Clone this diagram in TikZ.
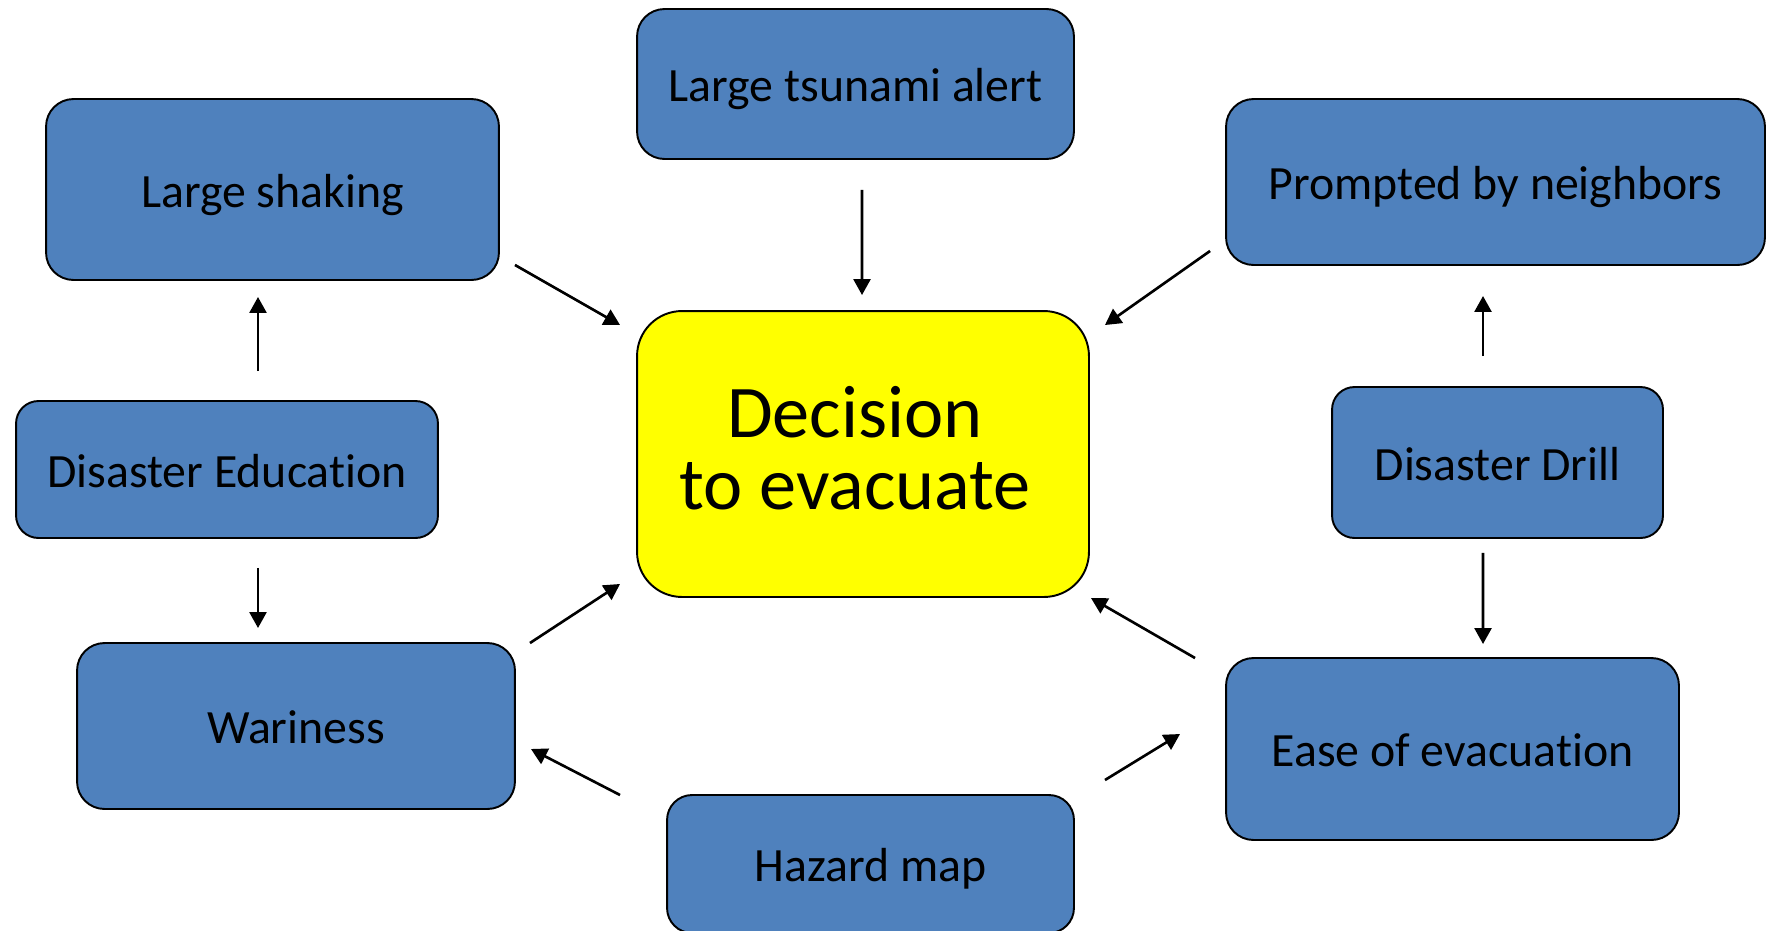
\documentclass[tikz,border=0pt]{standalone}
\usepackage{fontspec}
\setmainfont[Ligatures={NoCommon,NoContextual}]{Carlito}
\usetikzlibrary{arrows.meta}
\definecolor{boxblue}{RGB}{79,129,189}
\definecolor{decyellow}{RGB}{255,255,0}
\begin{document}
\begin{tikzpicture}[
  x=0.02cm,y=-0.02cm,
  >={Triangle[length=0.32cm,width=0.34cm]},
  factor/.style={draw=black,fill=boxblue,line width=1.1pt,rounded corners=0.55cm,inner sep=0pt,outer sep=0pt,
    text height=24.5pt,text depth=4.4pt,font=\fontsize{27.2pt}{32pt}\selectfont},
  decision/.style={draw=black,fill=decyellow,line width=1.1pt,rounded corners=0.9cm,align=center,inner sep=0pt,outer sep=0pt,
    text depth=7pt,font=\fontsize{42.3pt}{41pt}\selectfont},
  flow/.style={->,black,line width=1.5pt},
]
\useasboundingbox (0,0) rectangle (1767,930);
% ---- centre ----
\node[decision,minimum width=9.04cm,minimum height=5.72cm] (dec) at (863,454) {Decision\kern0.32cm\\to evacuate\kern0.32cm};
% ---- upper row ----
\node[factor,minimum width=9.06cm,minimum height=3.62cm] (shaking) at (272.5,189.5) {Large shaking};
\node[factor,minimum width=8.74cm,minimum height=3.00cm] (tsunami) at (855.5,84) {Large tsunami alert};
\node[factor,minimum width=10.78cm,minimum height=3.32cm] (neighbors) at (1495.5,182) {Prompted by neighbors};
% ---- middle row ----
\node[factor,minimum width=8.44cm,minimum height=2.74cm,rounded corners=0.45cm] (edu) at (227,469.5) {Disaster Education};
\node[factor,minimum width=6.62cm,minimum height=3.02cm,rounded corners=0.45cm] (drill) at (1497.5,462.5) {Disaster Drill};
% ---- lower row ----
\node[factor,minimum width=8.76cm,minimum height=3.32cm] (wariness) at (296,726) {Wariness};
\node[factor,minimum width=9.06cm,minimum height=3.64cm] (ease) at (1452.5,749) {Ease of evacuation};
\node[factor,minimum width=8.14cm,minimum height=2.76cm,rounded corners=0.5cm] (hazard) at (870.5,864) {Hazard map};
% factors -> decision
\draw[flow] ([shift={(16,-15)}]shaking.south east) -- ([shift={(-17,14)}]dec.north west);
\draw[flow] ([shift={(6.5,31)}]tsunami.south) -- ([shift={(-1,-16)}]dec.north);
\draw[flow] ([shift={(-16,-14)}]neighbors.south west) -- ([shift={(16,14)}]dec.north east);
\draw[flow] ([shift={(15,0)}]wariness.north east) -- ([shift={(-17,-13)}]dec.south west);
\draw[flow] ([shift={(-31,0)}]ease.north west) -- ([shift={(2,1)}]dec.south east);
% education and drill
\draw[flow] ([shift={(31,-30)}]edu.north) -- ([shift={(-14.5,17)}]shaking.south);
\draw[flow] ([shift={(31,30)}]edu.south) -- ([shift={(-38,-15)}]wariness.north);
\draw[flow] ([shift={(-14.5,-31)}]drill.north) -- ([shift={(-12.5,31)}]neighbors.south);
\draw[flow] ([shift={(-14.5,15)}]drill.south) -- ([shift={(30.5,-14)}]ease.north);
% hazard map
\draw[flow] ([shift={(-47,0)}]hazard.north west) -- ([shift={(16,23)}]wariness.east);
\draw[flow] ([shift={(31,-15)}]hazard.north east) -- ([shift={(-46,-15)}]ease.west);
\end{tikzpicture}
\end{document}
